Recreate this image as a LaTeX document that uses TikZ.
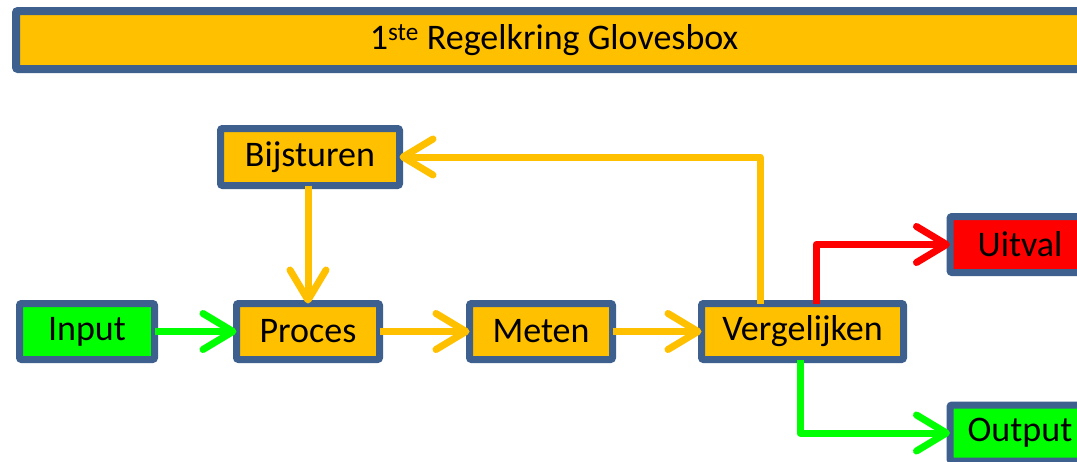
\documentclass[tikz,border=0pt]{standalone}
\usepackage{fontspec}
\setmainfont{Carlito}
\usetikzlibrary{arrows.meta}
\definecolor{boxorange}{HTML}{FFC000}
\definecolor{boxgreen}{HTML}{00FF00}
\definecolor{boxred}{HTML}{FF0000}
\definecolor{boxborder}{RGB}{62,96,142}
\tikzset{
  box/.style={draw=boxborder, line width=7pt, rounded corners=2pt, inner sep=0pt, outer sep=0pt,
    minimum height=56pt, font=\fontsize{36}{40}\selectfont, text=black},
  conn/.style={line width=7pt, line join=round,
    -{Straight Barb[length=30pt,width=36pt,round]}},
  oconn/.style={conn, draw=boxorange},
  gconn/.style={conn, draw=boxgreen},
  rconn/.style={conn, draw=boxred},
}
\begin{document}
\begin{tikzpicture}[x=1pt,y=-1pt]
\useasboundingbox (0,0) rectangle (1077,461);
\fill[white] (0,0) rectangle (1077,461);
% title bar
\node[box, line width=8pt, fill=boxorange, minimum width=1076pt, minimum height=58pt] (title) at (554,40)
  {1\textsuperscript{ste} Regelkring Glovesbox};
% boxes
\node[box, fill=boxorange, minimum width=179pt, minimum height=57pt] (bijsturen) at (310,157) {Bijsturen};
\node[box, fill=boxgreen, minimum width=135pt] (input) at (87,331.5) {Input};
\node[box, fill=boxorange, minimum width=143pt] (proces) at (308,331.5) {Proces};
\node[box, fill=boxorange, minimum width=143pt] (meten) at (541,331.5) {Meten};
\node[box, fill=boxorange, minimum width=202pt] (vergelijken) at (802.5,331.5) {Vergelijken};
\node[box, fill=boxred, minimum width=140pt] (uitval) at (1020,244.5) {Uitval};
\node[box, fill=boxgreen, minimum width=140pt] (output) at (1020,433) {Output};
% connectors
\draw[gconn] (input) -- (proces);
\draw[oconn] (proces.north |- bijsturen.south) -- (proces.north);
\draw[oconn] (proces) -- (meten);
\draw[oconn] (meten) -- (vergelijken);
\draw[oconn] ([xshift=-42.5pt]vergelijken.north) |- (bijsturen.east);
\draw[rconn] ([xshift=13.5pt]vergelijken.north) |- (uitval.west);
\draw[gconn] ([xshift=-2.5pt]vergelijken.south) |- (output.west);
\end{tikzpicture}
\end{document}
